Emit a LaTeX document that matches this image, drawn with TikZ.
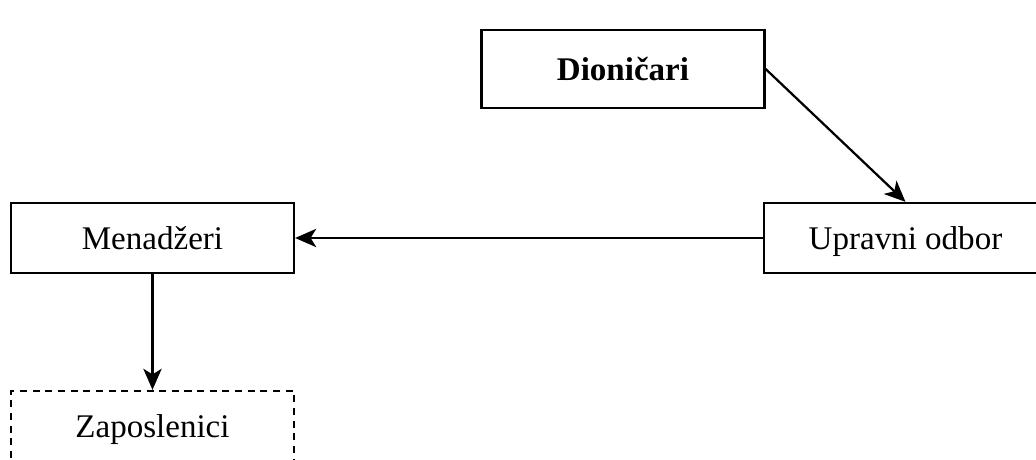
\documentclass[tikz,border=0pt]{standalone}
\usepackage{fontspec}
\setmainfont{Liberation Serif}
\usepackage{tikz}
\usetikzlibrary{arrows}
\usetikzlibrary{arrows.meta}

\begin{document}
\begin{tikzpicture}[->,>={Stealth[length=15pt,width=13pt,inset=4pt]},auto,node distance=4.7cm,
			line width=1.6pt,main node/.style={rectangle,draw,
				font=\fontsize{23.5}{28}\selectfont,text height=21pt,text depth=5pt,
				minimum width=7.075cm,minimum height=1.75cm}]
			\clip (-3.8125,-5.55) rectangle (22.0875,5.95);
			
			\node[main node] (M) at (0,0) {Menadžeri};
			\node[main node] (U) [right of=M,node distance=18.825cm] {Upravni odbor};
			\node[main node,dash pattern=on 5pt off 4pt] (Z) [below of=M] {Zaposlenici};
			\node[main node,minimum height=1.95cm,font=\fontsize{23.5}{28}\selectfont\bfseries] (D) at (11.7625,4.225) {Dioničari};
			\path[->]
			(D.east) edge (U.north)
			(U) edge (M)
			(M) edge (Z);
		\end{tikzpicture}
\end{document}
